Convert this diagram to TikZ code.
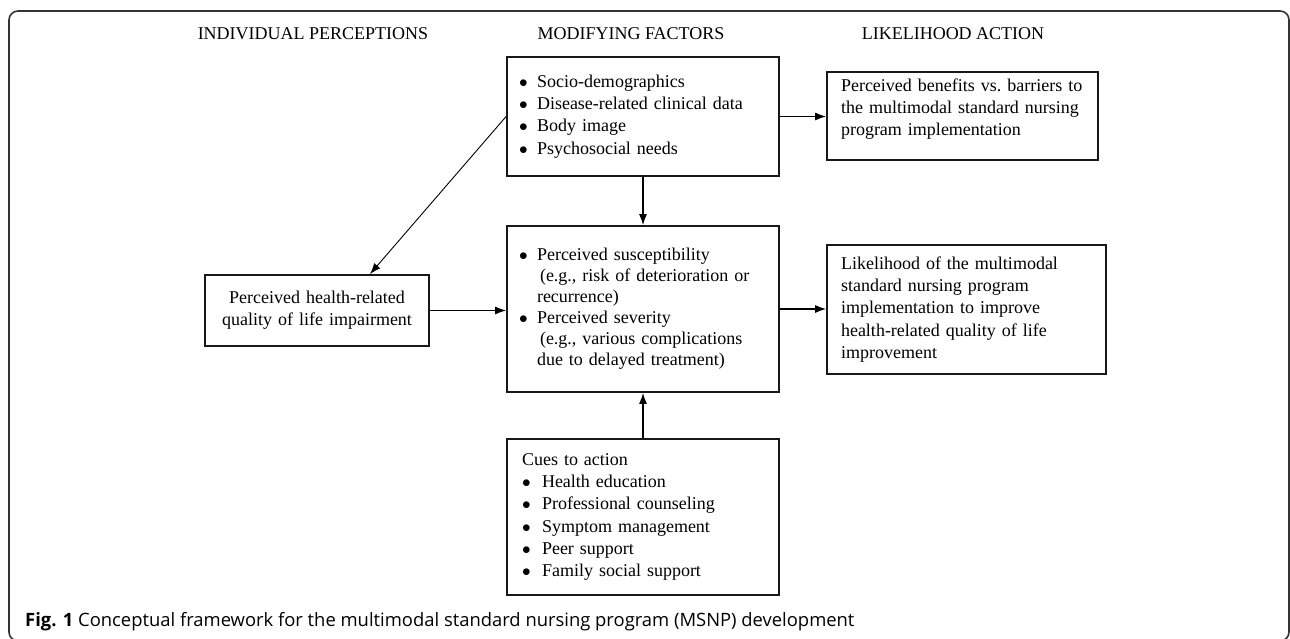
\documentclass[tikz,border=0pt]{standalone}
\usepackage{fontspec}
\setmainfont{Liberation Serif}
\newfontfamily\capfont{Open Sans}
\usetikzlibrary{shapes,arrows,arrows.meta}

\newcommand{\bitem}[1][18pt]{\makebox[#1][l]{$\bullet$}}
\newcommand{\bcont}[1][18pt]{\hspace*{#1}}

\begin{document}
\begin{tikzpicture}[x=1pt,y=-1pt]
		\tikzstyle {box} = [draw=black!90, line width=1.8pt, inner xsep=12pt, inner ysep=0pt, font=\fontsize{18}{22.2}\selectfont]
		\tikzstyle {list box} = [box, align=left]
		\tikzstyle {head} = [font=\fontsize{18}{22}\selectfont]
		\tikzstyle {arrow} = [-{Latex[length=11pt,width=8pt]}, line width=1.2pt]
		\tikzstyle {caption} = [font=\capfont\fontsize{18.4}{22}\selectfont, inner sep=0pt]

		\useasboundingbox (0,0) rectangle (1290,639);
		\clip (0,0) rectangle (1290,639);
		\draw[black!80, line width=1.6pt, rounded corners=9pt] (9,11) rectangle (1289,641);

		% column titles
		\node[head] (hind) at (313,34) {INDIVIDUAL PERCEPTIONS};
		\node[head] (hmod) at (631,34) {MODIFYING FACTORS};
		\node[head] (hlik) at (953,34) {LIKELIHOOD ACTION};

		% middle column
		\node[list box, text width=248pt, minimum height=119pt] (modfac) at (643,116.5) {%
			\bitem Socio-demographics\\
			\bitem Disease-related clinical data\\
			\bitem Body image\\
			\bitem Psychosocial needs};
		\node[list box, text width=248pt, minimum height=166pt, font=\fontsize{18}{21}\selectfont] (percept) at (643,309) {%
			\bitem Perceived susceptibility\\
			\bcont[21pt](e.g., risk of deterioration or\\
			\bcont recurrence)\\
			\bitem Perceived severity\\
			\bcont[21pt](e.g., various complications\\
			\bcont due to delayed treatment)};
		\node[list box, inner xsep=15pt, text width=242pt, minimum height=156pt] (cues) at (643,517) {%
			Cues to action\\
			\bitem[14pt] Health education\\
			\bitem[14pt] Professional counseling\\
			\bitem[14pt] Symptom management\\
			\bitem[14pt] Peer support\\
			\bitem[14pt] Family social support};

		% left column
		\node[box, align=center, text width=200pt, minimum height=71pt] (hrqol) at (317,310.5) {%
			Perceived health-related\\
			quality of life impairment};

		% right column
		\node[list box, inner xsep=14pt, text width=243pt, minimum height=88pt] (benefit) at (962.5,116) {%
			Perceived benefits vs.\ barriers to\\
			the multimodal standard nursing\\
			program implementation\rule[-18pt]{0pt}{0pt}};
		\node[list box, inner xsep=14pt, text width=251pt, minimum height=129pt] (likely) at (966.5,309.5) {%
			Likelihood of the multimodal\\
			standard nursing program\\
			implementation to improve\\
			health-related quality of life\\
			improvement};

		% connectors
		\draw[arrow] (modfac.south) -- (percept.north);
		\draw[arrow] (cues.north) -- (percept.south);
		\draw[arrow] (hrqol.east) -- (hrqol.east -| percept.west);
		\draw[arrow] (modfac.east) -- (modfac.east -| benefit.west);
		\draw[arrow] (percept.east) -- (percept.east -| likely.west);
		\draw[arrow, line width=0.9pt] (modfac.west) -- ([xshift=53pt]hrqol.north);

		\node[caption, anchor=west] (cap) at (25,622) {\textbf{Fig. 1} Conceptual framework for the multimodal standard nursing program (MSNP) development};
\end{tikzpicture}
\end{document}
